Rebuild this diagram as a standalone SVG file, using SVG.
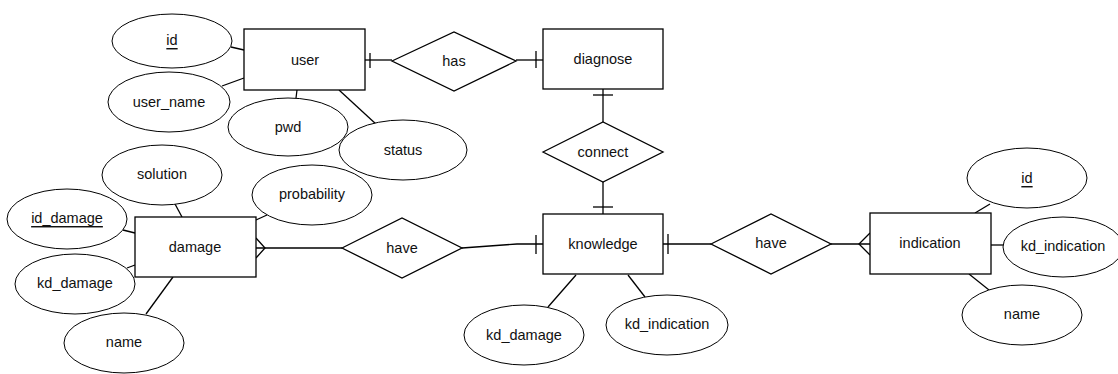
<svg xmlns="http://www.w3.org/2000/svg" width="1118" height="374" viewBox="0 0 1118 374">
<style>
.s{fill:#fff;stroke:#000;stroke-width:1.3}
.e{fill:#fff;stroke:#000;stroke-width:1}
.l{fill:none;stroke:#000;stroke-width:1.3}
text{font-family:"Liberation Sans",Arial,sans-serif;font-size:14.5px;fill:#111;text-anchor:middle;dominant-baseline:central}
.u{text-decoration:underline}
</style>
<rect width="1118" height="374" fill="#fff"/>
<g id="connectors" class="l">
<path d="M231 47 L244 50"/>
<path d="M222 86 L244 78"/>
<path d="M296 98 L297 90"/>
<path d="M339 90 L377 125"/>
<path d="M365 60 L392 60"/>
<path d="M370 53 L370 68"/>
<path d="M516 60 L543 60"/>
<path d="M536 51 L536 68"/>
<path d="M603 89 L603 122"/>
<path d="M593 95 L613 95"/>
<path d="M603 182 L603 214"/>
<path d="M593 207 L613 207"/>
<path d="M175 204 L182 217"/>
<path d="M123 230 L135 233"/>
<path d="M127 268 L135 265"/>
<path d="M146 314 L173 277"/>
<path d="M256 220 L267 215"/>
<path d="M256 248 L342 248"/>
<path d="M256 238 L265 248 L256 258"/>
<path d="M462 248 L517 244 L543 244"/>
<path d="M536 235 L536 254"/>
<path d="M663 244 L711 244"/>
<path d="M668 234 L668 254"/>
<path d="M576 275 L548 307"/>
<path d="M628 275 L645 297"/>
<path d="M831 244 L870 244"/>
<path d="M870 233 L859 244 L870 255"/>
<path d="M975 213 L990 204"/>
<path d="M991 245 L1004 245"/>
<path d="M969 274 L989 290"/>
</g>
<g id="user"><rect class="s" x="244" y="29" width="121" height="61"/><text x="305" y="60">user</text></g>
<g id="user_id"><ellipse class="e" cx="172" cy="41" rx="60" ry="27"/><text class="u" x="172" y="40">id</text></g>
<g id="user_name"><ellipse class="e" cx="169" cy="102" rx="61" ry="30"/><text x="169" y="102">user_name</text></g>
<g id="pwd"><ellipse class="e" cx="288" cy="127" rx="60" ry="29"/><text x="288" y="127">pwd</text></g>
<g id="status"><ellipse class="e" cx="403" cy="150" rx="64" ry="30"/><text x="403" y="150">status</text></g>
<g id="has"><polygon class="s" points="392,61 454,32 516,61 454,91"/><text x="454" y="61">has</text></g>
<g id="diagnose"><rect class="s" x="543" y="29" width="120" height="60"/><text x="603" y="59">diagnose</text></g>
<g id="connect"><polygon class="s" points="543,152 603,122 663,152 603,182"/><text x="603" y="152">connect</text></g>
<g id="knowledge"><rect class="s" x="543" y="214" width="120" height="60"/><text x="603" y="244">knowledge</text></g>
<g id="kn_kd_damage"><ellipse class="e" cx="524" cy="335" rx="60" ry="30"/><text x="524" y="335">kd_damage</text></g>
<g id="kn_kd_indication"><ellipse class="e" cx="667" cy="325" rx="61" ry="30"/><text x="667" y="324">kd_indication</text></g>
<g id="have1"><polygon class="s" points="342,248 402,218 462,248 402,278"/><text x="402" y="248">have</text></g>
<g id="damage"><rect class="s" x="135" y="217" width="121" height="60"/><text x="195" y="247">damage</text></g>
<g id="solution"><ellipse class="e" cx="162" cy="175" rx="60" ry="30"/><text x="162" y="174">solution</text></g>
<g id="probability"><ellipse class="e" cx="312" cy="195" rx="60" ry="30"/><text x="312" y="194">probability</text></g>
<g id="id_damage"><ellipse class="e" cx="67" cy="219" rx="60" ry="30"/><text class="u" x="67" y="218">id_damage</text></g>
<g id="dm_kd_damage"><ellipse class="e" cx="75" cy="284" rx="60" ry="30"/><text x="75" y="283">kd_damage</text></g>
<g id="dm_name"><ellipse class="e" cx="124" cy="343" rx="60" ry="30"/><text x="124" y="342">name</text></g>
<g id="have2"><polygon class="s" points="711,244 771,214 831,244 771,274"/><text x="771" y="243">have</text></g>
<g id="indication"><rect class="s" x="870" y="213" width="121" height="61"/><text x="930" y="243">indication</text></g>
<g id="ind_id"><ellipse class="e" cx="1027" cy="178" rx="60" ry="30"/><text class="u" x="1027" y="178">id</text></g>
<g id="ind_kd_indication"><ellipse class="e" cx="1063" cy="247" rx="60" ry="30"/><text x="1063" y="246">kd_indication</text></g>
<g id="ind_name"><ellipse class="e" cx="1022" cy="315" rx="60" ry="30"/><text x="1022" y="314">name</text></g>
</svg>
